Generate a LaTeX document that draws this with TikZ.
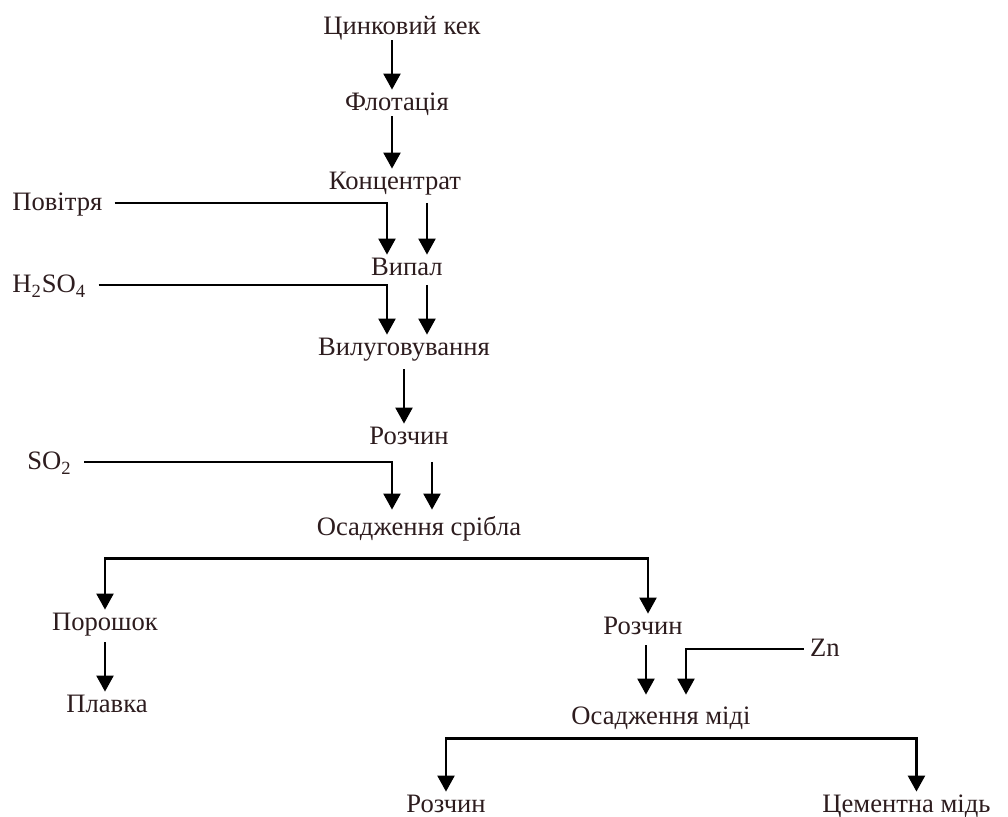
\documentclass[tikz,border=0pt]{standalone}
\usepackage{fontspec}
\setmainfont{Liberation Serif}
\usetikzlibrary{arrows.meta}
\definecolor{ink}{RGB}{45,28,30}

\begin{document}
\begin{tikzpicture}[x=0.5pt,y=-0.5pt,
		stage/.style={text=ink,font=\fontsize{13.3}{16}\selectfont,inner xsep=3pt,inner ysep=2pt,text height=0.85em,text depth=0.05em},
		feed/.style={stage,anchor=west,inner xsep=6pt},
		flow/.style={line width=1.2pt,-{Triangle[length=8pt,width=8.5pt]}}]
		\useasboundingbox (0,0) rectangle (1008,817);
		\node[stage] (kek)    at (402,27)  {Цинковий кек};
		\node[stage] (flot)   at (397,103) {Флотація};
		\node[stage] (konc)   at (395,182) {Концентрат};
		\node[feed]  (air)    at (0,203)   {Повітря};
		\node[stage] (vyp)    at (407,268) {Випал};
		\node[feed]  (acid)   at (0,285)   {H\textsubscript{2}SO\textsubscript{4}};
		\node[stage] (vil)    at (404,348) {Вилуговування};
		\node[stage] (sol1)   at (409,437) {Розчин};
		\node[feed]  (so2)    at (15,462)  {SO\textsubscript{2}};
		\node[stage] (sribla) at (419,528) {Осадження срібла};
		\node[stage] (powder) at (105,623) {Порошок};
		\node[stage] (melt)   at (107,705) {Плавка};
		\node[stage] (sol2)   at (643,627) {Розчин};
		\node[stage] (zn)     at (825,649) {Zn};
		\node[stage] (midi)   at (661,717) {Осадження міді};
		\node[stage] (sol3)   at (446,805) {Розчин};
		\node[stage,anchor=west] (cem) at (816,805) {Цементна мідь};

		\draw[flow] ([xshift=-5pt]kek.south) -- ([xshift=-5pt]kek.south |- flot.north);
		\draw[flow] ([xshift=-2.5pt]flot.south) -- ([xshift=-2.5pt]flot.south |- konc.north);

		\draw[flow] (air.east) -| ([xshift=-10pt]vyp.north);
		\draw[flow] ([xshift=10pt]vyp.north |- air.east) -- ([xshift=10pt]vyp.north);

		\draw[flow] (acid.east) -| ([xshift=-10pt]vyp.center |- vil.north);
		\draw[flow] ([xshift=10pt]vyp.center |- acid.east) -- ([xshift=10pt]vyp.center |- vil.north);

		\draw[flow] ([yshift=-4pt]vil.south) -- (vil.south |- sol1.north);

		\draw[flow] (so2.east) -| ([xshift=-8.5pt,yshift=2.5pt]sol1.center |- sribla.north);
		\draw[flow] ([xshift=11.5pt]sol1.center |- so2.east) -- ([xshift=11.5pt,yshift=2.5pt]sol1.center |- sribla.north);

		\coordinate (bar1) at ([yshift=-8.5pt]sribla.south);
		\draw[flow] (bar1) -| (powder.north);
		\draw[flow] (bar1) -| ([xshift=2.5pt]sol2.north);
		\draw[flow] ([yshift=-3pt]powder.south) -- (powder.south |- melt.north);

		\draw[flow] ([xshift=1.5pt,yshift=-2.5pt]sol2.south) -- ([xshift=1.5pt,yshift=4.5pt]sol2.south |- midi.north);
		\draw[flow] (zn.west) -| ([xshift=21.5pt,yshift=4.5pt]sol2.south |- midi.north);

		\coordinate (bar2) at ([yshift=-4pt]midi.south);
		\draw[flow] (bar2) -| (sol3.north);
		\draw[flow] (bar2) -| ([xshift=5pt]cem.north);
	\end{tikzpicture}
\end{document}
